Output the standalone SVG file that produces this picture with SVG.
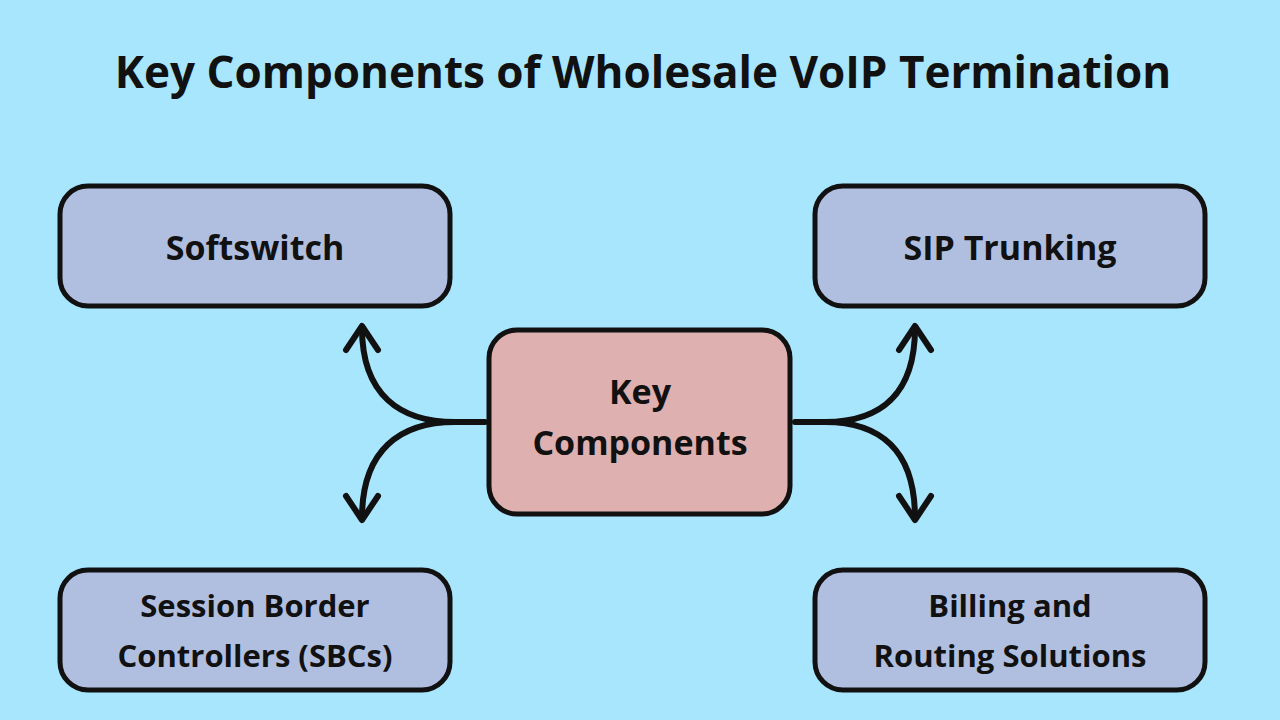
<svg xmlns="http://www.w3.org/2000/svg" width="1280" height="720" viewBox="0 0 1280 720">
<style>
.box{fill:#b0bfe0;stroke:#111;stroke-width:5}
.ctr{fill:#deb0b0;stroke:#111;stroke-width:5}
.t{font-family:"Open Sans","Liberation Sans",sans-serif;font-weight:bold;fill:#111;text-anchor:middle}
.c{fill:none;stroke:#111;stroke-width:6;stroke-linecap:round;stroke-linejoin:round}
</style>
<rect width="1280" height="720" fill="#a8e6fd"/>
<text class="t" x="643" y="88" font-size="44">Key Components of Wholesale VoIP Termination</text>
<g id="connectors">
<path class="c" d="M485,422 L455,422 C400,422 362,395 362,328"/>
<polyline class="c" points="346,350 362,326 378,350"/>
<path class="c" d="M455,422 C400,422 362,450 362,518"/>
<polyline class="c" points="346,496 362,520 378,496"/>
<path class="c" d="M795,422 L825,422 C880,422 915,395 915,328"/>
<polyline class="c" points="899,350 915,326 931,350"/>
<path class="c" d="M825,422 C880,422 915,450 915,518"/>
<polyline class="c" points="899,496 915,520 931,496"/>
</g>
<g id="softswitch"><rect class="box" x="60" y="186" width="390" height="120" rx="28"/><text class="t" x="255" y="260" font-size="34">Softswitch</text></g>
<g id="sip"><rect class="box" x="815" y="186" width="390" height="120" rx="28"/><text class="t" x="1010" y="260" font-size="34">SIP Trunking</text></g>
<g id="sbc"><rect class="box" x="60" y="570" width="390" height="120" rx="28"/><text class="t" x="255" y="617" font-size="31">Session Border</text><text class="t" x="255" y="667" font-size="31">Controllers (SBCs)</text></g>
<g id="billing"><rect class="box" x="815" y="570" width="390" height="120" rx="28"/><text class="t" x="1010" y="617" font-size="31">Billing and</text><text class="t" x="1010" y="667" font-size="31">Routing Solutions</text></g>
<g id="center"><rect class="ctr" x="489" y="330" width="301" height="184" rx="28"/><text class="t" x="640" y="404" font-size="34">Key</text><text class="t" x="640" y="455" font-size="34">Components</text></g>
</svg>
